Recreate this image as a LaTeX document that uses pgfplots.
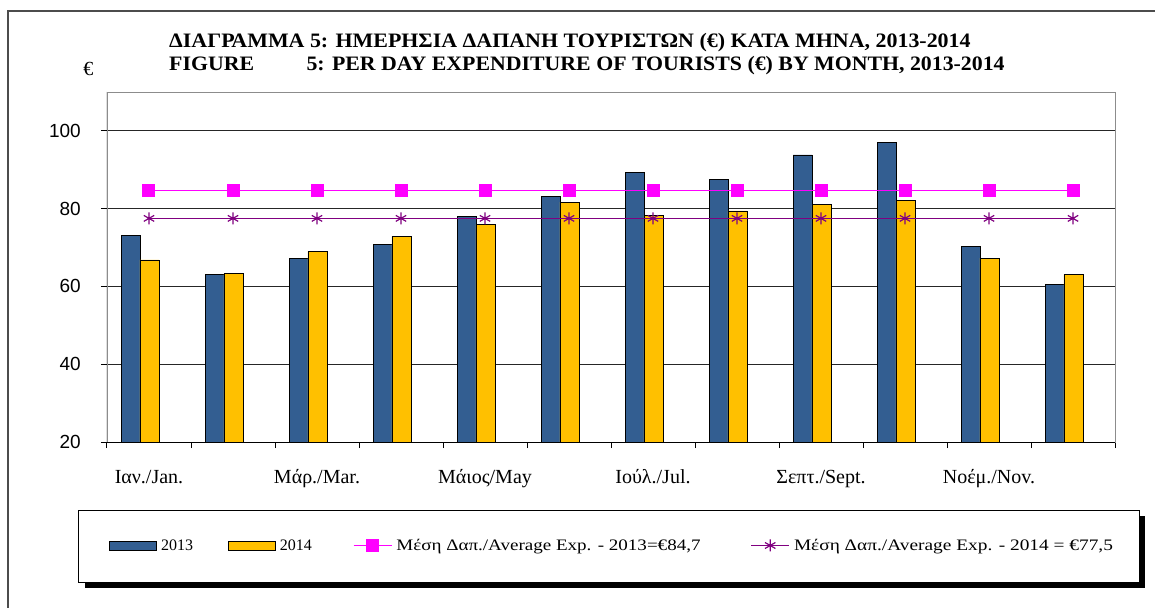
\documentclass[border=0pt]{standalone}
\usepackage{fontspec}
\setmainfont{Liberation Serif}
\newfontfamily\tickfont{Liberation Sans}
\usepackage{pgfplots}
\pgfplotsset{compat=1.18}
\usetikzlibrary{backgrounds}
\definecolor{bar13}{RGB}{51,94,145}
\definecolor{bar14}{RGB}{255,192,0}
\definecolor{avg13}{RGB}{255,0,255}
\definecolor{avg14}{RGB}{128,0,128}
\pgfplotsset{
  barlegend/.style={legend image code/.code={\draw[##1] (0pt,-4.5pt) rectangle (47pt,4.5pt);}},
  linelegend/.style={legend image code/.code={\draw[mark repeat=2, mark phase=2, ##1]
        plot coordinates {(0pt,0pt) (19pt,0pt) (38pt,0pt)};}},
}

\begin{document}
\begin{tikzpicture}[x=1pt,y=1pt]
\begin{axis}[
    name=ax, at={(0pt,0pt)}, anchor=south west,
    scale only axis, width=1008pt, height=350pt,
    xmin=-0.5, xmax=11.5, ymin=20, ymax=110,
    xtick={0,2,...,10},
    xticklabels={Ιαν./Jan., Μάρ./Mar., Μάιος/May, Ιούλ./Jul., Σεπτ./Sept., Νοέμ./Nov.},
    minor xtick={-0.5,0.5,...,11.5},
    ytick={20,40,...,100},
    /pgf/number format/assume math mode=true,
    xtick pos=lower, ytick pos=left,
    tick align=outside,
    major tick length=6pt, minor tick length=6pt,
    tick style={black, line width=1pt},
    major x tick style={draw=none},
    ymajorgrids,
    major grid style={black!85, line width=1pt},
    axis line style={black!45, line width=0.8pt},
    xticklabel style={font=\fontsize{20}{20}\selectfont, anchor=base, yshift=-35pt},
    yticklabel style={font=\tickfont\fontsize{19}{19}\selectfont, anchor=east, inner sep=0pt, xshift=-20pt},
    legend style={at={(0.002,-0.2957)}, anchor=west, draw=none, fill=none,
        inner sep=0pt, font=\fontsize{16}{17}\selectfont,
        nodes={inner xsep=0pt, inner ysep=1pt},
        /tikz/every odd column/.append style={column sep=4pt},
        /tikz/every even column/.append style={column sep=0pt}},
    legend columns=4,
    legend cell align=left,
]
\addplot[ybar, bar width=0.226, bar shift=-0.218, fill=bar13, draw=black, line width=0.8pt, barlegend]
    coordinates {(0,73.2) (1,63.0) (2,67.2) (3,70.8) (4,78.1) (5,83.1)
                 (6,89.3) (7,87.5) (8,93.8) (9,97.0) (10,70.2) (11,60.6)};
\addlegendentry{\makebox[67pt][l]{2013}}
\addplot[ybar, bar width=0.226, bar shift=0.005, fill=bar14, draw=black, line width=0.8pt, barlegend]
    coordinates {(0,66.8) (1,63.3) (2,69.0) (3,72.9) (4,76.0) (5,81.7)
                 (6,78.3) (7,79.4) (8,81.0) (9,82.2) (10,67.3) (11,63.1)};
\addlegendentry{\makebox[73pt][l]{2014}}
\addplot[avg13, line width=1.6pt, mark=square*, mark size=6pt,
    mark options={fill=avg13, draw=avg13, line width=0pt}, linelegend]
    coordinates {(0,84.7) (1,84.7) (2,84.7) (3,84.7) (4,84.7) (5,84.7)
                 (6,84.7) (7,84.7) (8,84.7) (9,84.7) (10,84.7) (11,84.7)};
\addlegendentry{\makebox[354pt][l]{\scalebox{1.19}[1]{Μέση Δαπ./Average Exp. - 2013=€84,7}}}
\addplot[avg14, line width=1.6pt, mark=asterisk, mark size=6pt,
    mark options={line width=1.2pt}, linelegend]
    coordinates {(0,77.5) (1,77.5) (2,77.5) (3,77.5) (4,77.5) (5,77.5)
                 (6,77.5) (7,77.5) (8,77.5) (9,77.5) (10,77.5) (11,77.5)};
\addlegendentry{\scalebox{1.21}[1]{Μέση Δαπ./Average Exp. - 2014 = €77,5}}
% dark left and bottom axis lines
\draw[black, line width=1pt] (rel axis cs:0,1) -- (rel axis cs:0,0) -- (rel axis cs:1,0);
\end{axis}
\pgfresetboundingbox
\begin{scope}[shift={(ax.south west)}, xshift=-107pt, yshift=-165pt]
\useasboundingbox (0,0) rectangle (1155,607);
\begin{scope}[on background layer]
\fill[white] (0,0) rectangle (1155,607);
% legend frame with shadow
\fill[black] (85,19) rectangle (1145,91);
\draw[black, fill=white, line width=1pt] (79,25) rectangle (1139,97);
\end{scope}
% outer frame (cut at right and bottom)
\draw[black!70, line width=1.3pt] (8,-20) -- (8,596) -- (1175,596);
% title
\node[anchor=base west, inner sep=0pt, font=\fontsize{20.5}{23}\selectfont\bfseries]
  at (169,559.5) {\scalebox{1.07}[1]{ΔΙΑΓΡΑΜΜΑ 5: ΗΜΕΡΗΣΙΑ ΔΑΠΑΝΗ ΤΟΥΡΙΣΤΩΝ (€) ΚΑΤΑ ΜΗΝΑ, 2013-2014}};
\node[anchor=base west, inner sep=0pt, font=\fontsize{20.5}{23}\selectfont\bfseries]
  at (169,536.5) {\scalebox{1.065}[1]{\makebox[129pt][l]{FIGURE}5: PER DAY EXPENDITURE OF TOURISTS (€) BY MONTH, 2013-2014}};
\node[font=\fontsize{20}{20}\selectfont] at (88.5,538.5) {€};
\end{scope}
\end{tikzpicture}
\end{document}
